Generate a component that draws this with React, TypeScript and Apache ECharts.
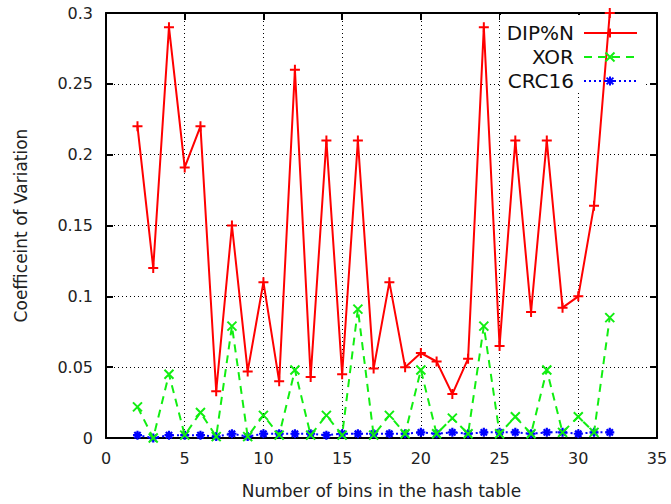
import React, { useEffect, useRef } from "react";
import * as echarts from "echarts";

const bins = [2, 3, 4, 5, 6, 7, 8, 9, 10, 11, 12, 13, 14, 15, 16, 17, 18, 19, 20, 21, 22, 23, 24, 25, 26, 27, 28, 29, 30, 31, 32];
const dipN = [0.22, 0.12, 0.29, 0.191, 0.22, 0.033, 0.15, 0.047, 0.11, 0.04, 0.26, 0.043, 0.21, 0.045, 0.21, 0.049, 0.11, 0.05, 0.06, 0.054, 0.031, 0.056, 0.29, 0.065, 0.21, 0.089, 0.21, 0.092, 0.1, 0.164, 0.3];
const xor = [0.022, 0.0, 0.045, 0.002, 0.018, 0.001, 0.079, 0.001, 0.016, 0.002, 0.048, 0.002, 0.016, 0.002, 0.091, 0.002, 0.016, 0.003, 0.048, 0.003, 0.014, 0.003, 0.079, 0.003, 0.015, 0.003, 0.048, 0.004, 0.015, 0.004, 0.085];
const crc16 = [0.002, 0.0, 0.002, 0.002, 0.002, 0.001, 0.003, 0.001, 0.003, 0.003, 0.003, 0.003, 0.002, 0.003, 0.003, 0.003, 0.003, 0.003, 0.004, 0.003, 0.004, 0.003, 0.004, 0.004, 0.004, 0.003, 0.004, 0.004, 0.003, 0.004, 0.004];
const seriesNames = ["DIP%N", "XOR", "CRC16"];
const xTitle = "Number of bins in the hash table";
const yTitle = "Coefficeint of Variation";

const FONT = "DejaVu Sans";
const RED = "#ff0000";
const GREEN = "#11ee11";
const BLUE = "#0000ff";

const PLUS = "path://M0,5L10,5M5,0L5,10";
const CROSS = "path://M0,0L10,10M10,0L0,10";
const STAR = "path://M0,5L10,5M5,0L5,10M1.5,1.5L8.5,8.5M8.5,1.5L1.5,8.5";

function pairs(ys: number[]) {
  return bins.map((x, i) => [x, ys[i]]);
}

function legendMarker(kind: string, cx: number, cy: number, color: string, r: number) {
  const segs: number[][] = [];
  if (kind === "plus" || kind === "star") {
    segs.push([cx - r, cy, cx + r, cy], [cx, cy - r, cx, cy + r]);
  }
  if (kind === "cross" || kind === "star") {
    const d = kind === "star" ? r * 0.75 : r;
    segs.push([cx - d, cy - d, cx + d, cy + d], [cx + d, cy - d, cx - d, cy + d]);
  }
  return segs.map((s) => ({
    type: "line",
    z: 10,
    shape: { x1: s[0], y1: s[1], x2: s[2], y2: s[3] },
    style: { stroke: color, lineWidth: 2 },
  }));
}

export default function App() {
  const ref = useRef<HTMLDivElement>(null);
  useEffect(() => {
    if (!ref.current) return;
    const chart = echarts.init(ref.current, undefined, { renderer: "svg" });
    const axisLabel = { fontFamily: FONT, fontSize: 16, color: "#222" };
    const legendRows = [
      { name: seriesNames[0], color: RED, type: "solid", kind: "plus", y: 33 },
      { name: seriesNames[1], color: GREEN, type: [8, 6], kind: "cross", y: 57 },
      { name: seriesNames[2], color: BLUE, type: [2, 3], kind: "star", y: 81 },
    ];
    const graphic: any[] = [
      {
        type: "rect",
        z: 1,
        shape: { x: 500, y: 15, width: 145, height: 78 },
        style: { fill: "#ffffff" },
      },
    ];
    legendRows.forEach((r) => {
      graphic.push({
        type: "text",
        z: 10,
        x: 574,
        y: r.y,
        style: {
          text: r.name,
          fontFamily: FONT,
          fontSize: 20,
          fill: "#111",
          align: "right",
          verticalAlign: "middle",
        },
      });
      graphic.push({
        type: "line",
        z: 10,
        shape: { x1: 584, y1: r.y, x2: 637, y2: r.y },
        style: { stroke: r.color, lineWidth: 2, lineDash: r.type === "solid" ? null : r.type },
      });
      graphic.push(...legendMarker(r.kind, 610, r.y, r.color, 4.5));
    });

    const frameLine = { show: true, onZero: false, lineStyle: { color: "#000", width: 2 } };
    const tick = { show: true, inside: true, length: 7, lineStyle: { color: "#000", width: 2 } };
    const split = { show: true, lineStyle: { color: "#000", type: [1, 3], width: 1 } };

    chart.setOption({
      animation: false,
      grid: { left: 106, right: 14, top: 13, bottom: 65, containLabel: false },
      xAxis: [
        {
          type: "value",
          min: 0,
          max: 35,
          interval: 5,
          position: "bottom",
          axisLine: frameLine,
          axisTick: tick,
          splitLine: split,
          axisLabel: { ...axisLabel, margin: 12 },
          name: xTitle,
          nameLocation: "middle",
          nameGap: 44,
          nameTextStyle: { fontFamily: FONT, fontSize: 17, color: "#222" },
        },
        {
          type: "value",
          min: 0,
          max: 35,
          interval: 5,
          position: "top",
          axisLine: frameLine,
          axisTick: tick,
          splitLine: { show: false },
          axisLabel: { show: false },
        },
      ],
      yAxis: [
        {
          type: "value",
          min: 0,
          max: 0.3,
          interval: 0.05,
          position: "left",
          axisLine: frameLine,
          axisTick: tick,
          splitLine: split,
          axisLabel: { ...axisLabel, margin: 13 },
          name: yTitle,
          nameLocation: "middle",
          nameGap: 77,
          nameTextStyle: { fontFamily: FONT, fontSize: 17, color: "#222" },
        },
        {
          type: "value",
          min: 0,
          max: 0.3,
          interval: 0.05,
          position: "right",
          axisLine: frameLine,
          axisTick: tick,
          splitLine: { show: false },
          axisLabel: { show: false },
        },
      ],
      graphic,
      series: [
        {
          name: seriesNames[0],
          type: "line",
          data: pairs(dipN),
          symbol: PLUS,
          symbolSize: 10,
          z: 5,
          lineStyle: { color: RED, width: 2 },
          itemStyle: { color: RED, borderColor: RED, borderWidth: 2 },
        },
        {
          name: seriesNames[1],
          type: "line",
          data: pairs(xor),
          symbol: CROSS,
          symbolSize: 9,
          z: 4,
          lineStyle: { color: GREEN, width: 2, type: [8, 6] },
          itemStyle: { color: GREEN, borderColor: GREEN, borderWidth: 2 },
        },
        {
          name: seriesNames[2],
          type: "line",
          data: pairs(crc16),
          symbol: STAR,
          symbolSize: 9,
          z: 3,
          lineStyle: { color: BLUE, width: 2, type: [2, 3] },
          itemStyle: { color: BLUE, borderColor: BLUE, borderWidth: 2.2 },
        },
      ],
    });
    return () => chart.dispose();
  }, []);
  return <div ref={ref} style={{ width: 671, height: 504, position: "absolute", left: 0, top: 0 }} />;
}
